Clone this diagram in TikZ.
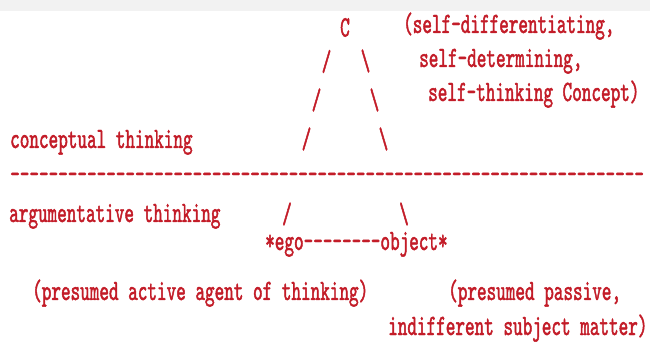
\documentclass[tikz,border=0pt]{standalone}
\usepackage{fontspec}
\setmonofont{lmmono10-regular.otf}[FakeStretch=0.62,FakeBold=1.5]
\definecolor{asciired}{RGB}{195,28,40}

\begin{document}
\begin{tikzpicture}[x=1pt,y=-1pt,
  ascii/.style={text=asciired,inner sep=0pt,font=\ttfamily\fontsize{29.5}{34}\selectfont},
  txt/.style={ascii,anchor=base west}]
\useasboundingbox[fill=white] (0,0) rectangle (650,344);
\fill[gray!10] (0,0) rectangle (650,11);
% the Concept at the top and its legs
\node[ascii] (C) at (345,27.5) {C};
\node[ascii] (L1) at (326.5,61.5) {/};
\node[ascii] (L2) at (316.5,100) {/};
\node[ascii] (L3) at (306.5,139) {/};
\node[ascii] (L4) at (287,214) {/};
\node[ascii] (R1) at (365.5,61) {\textbackslash};
\node[ascii] (R2) at (374.5,100) {\textbackslash};
\node[ascii] (R3) at (383.5,139) {\textbackslash};
\node[ascii] (R4) at (404,214) {\textbackslash};
\node[txt] (self1) at (403,33) {(self-differentiating,};
\node[txt] (self2) at (419,67) {self-determining,};
\node[txt] (self3) at (428,101) {self-thinking Concept)};
% the two levels
\node[txt] (concep) at (10,148) {conceptual thinking};
\node[txt] (rule) at (10,183) {------------------------------------------------------------------};
\node[txt] (argum) at (9,222) {argumentative thinking};
% ego and object
\node[txt] (egoobj) at (265,250) {*ego--------object*};
\node[txt] (agent) at (32,300) {(presumed active agent of thinking)};
\node[txt] (passive) at (448,300) {(presumed passive,};
\node[txt] (matter) at (388,335) {indifferent subject matter)};
\end{tikzpicture}
\end{document}
